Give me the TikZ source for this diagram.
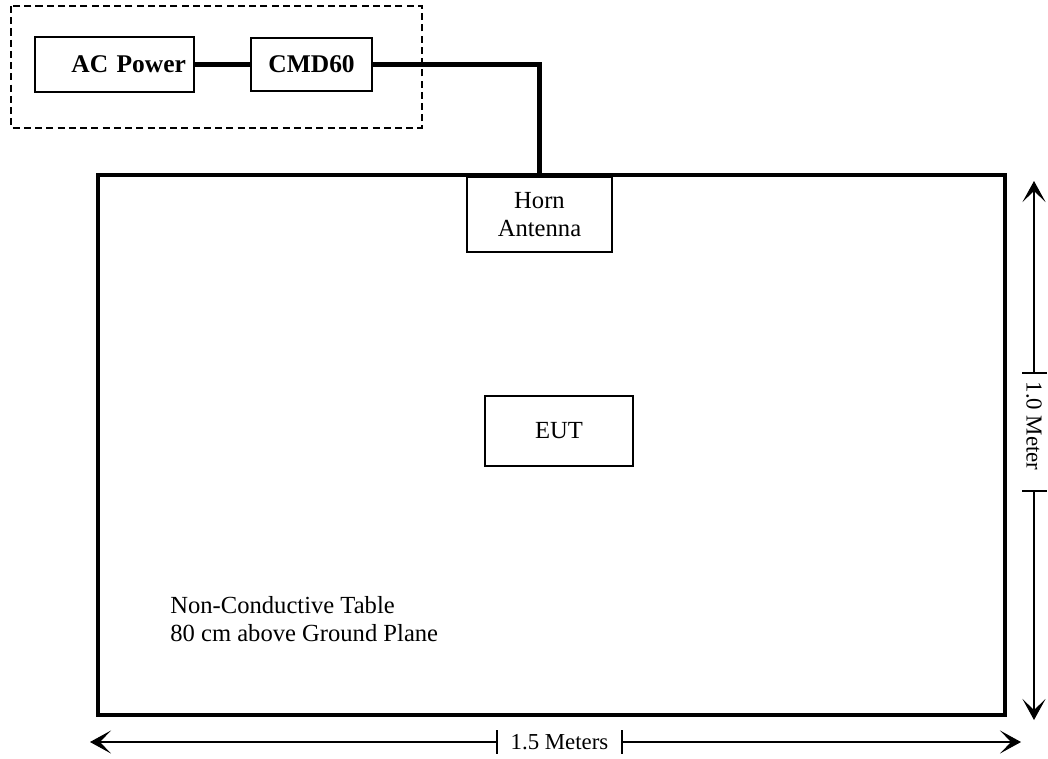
\documentclass[tikz,border=0pt]{standalone}
\usepackage{fontspec}
\setmainfont{Liberation Serif}
\usetikzlibrary{arrows.meta, positioning}

\begin{document}
\begin{tikzpicture}[x=0.02cm, y=-0.02cm]
	% Setup the styles for the boxes and the lines
	\tikzset{box style/.style={draw, line width=1.2pt, fill=white,
			inner sep=0pt, font=\fontsize{14}{16}\selectfont},
		bold box/.style={box style, font=\fontsize{14.5}{16}\selectfont\bfseries},
		cable/.style={line width=2.3pt},
		dim line/.style={line width=0.8pt},
		dim arrow/.style={dim line,
			-{Stealth[length=0.42cm, width=0.46cm, inset=0.22cm, line width=0.6pt]}},
		dim label/.style={inner sep=0pt, font=\fontsize{13}{15}\selectfont}}
	
	\useasboundingbox (0,0) rectangle (1048,758);
	
	% table and the dashed enclosure
	\draw[line width=2pt] (98,175) rectangle (1005,715);
	\draw[line width=0.8pt, dash pattern=on 4pt off 2.4pt] (11,6) rectangle (422,128);
	
	\node[bold box, text width=2.86cm, inner xsep=0.16cm, align=right,
		minimum height=1.1cm]                                       (ac)   at (114.5,64.5) {AC Power};
	\node[bold box, minimum width=2.42cm, minimum height=1.06cm,
		right=1.1cm of ac]                                          (cmd)  {CMD60};
	\node[box style, minimum width=2.9cm, minimum height=1.5cm,
		align=center]                                               (horn) at (539.5,214.5) {Horn\\Antenna};
	\node[box style, minimum width=2.96cm, minimum height=1.4cm]  (eut)  at (559,431) {EUT};
	\node[anchor=north west, inner sep=0pt, align=left,
		font=\fontsize{14}{16}\selectfont]                          (note) at (170,596)
		{Non-Conductive Table\\80 cm above Ground Plane};
	
	\draw[cable] (ac) -- (cmd);
	\draw[cable] (cmd.east) -| (horn.north);
	
	% dimensions
	\coordinate (htick1) at (497,742);
	\coordinate (htick2) at (622,742);
	\coordinate (hleft)  at (90,742);
	\coordinate (hright) at (1021,742);
	\node[dim label] (hlabel) at (559.5,742) {1.5 Meters};
	
	\coordinate (vtick1) at (1034,373);
	\coordinate (vtick2) at (1034,491);
	\coordinate (vtop)   at (1034,181);
	\coordinate (vbot)   at (1034,720);
	\node[dim label, rotate=-90] (vlabel) at (1034,426) {1.0 Meter};
	
	\draw[dim arrow] (htick1) -- (hleft);
	\draw[dim arrow] (htick2) -- (hright);
	\draw[dim line] (htick1) ++(0,-12) -- ++(0,24)
	(htick2) ++(0,-12) -- ++(0,24);
	\draw[dim arrow] (vtick1) -- (vtop);
	\draw[dim arrow] (vtick2) -- (vbot);
	\draw[dim line] (vtick1) ++(-12,0) -- ++(25,0)
	(vtick2) ++(-12,0) -- ++(25,0);
	
\end{tikzpicture}
\end{document}
